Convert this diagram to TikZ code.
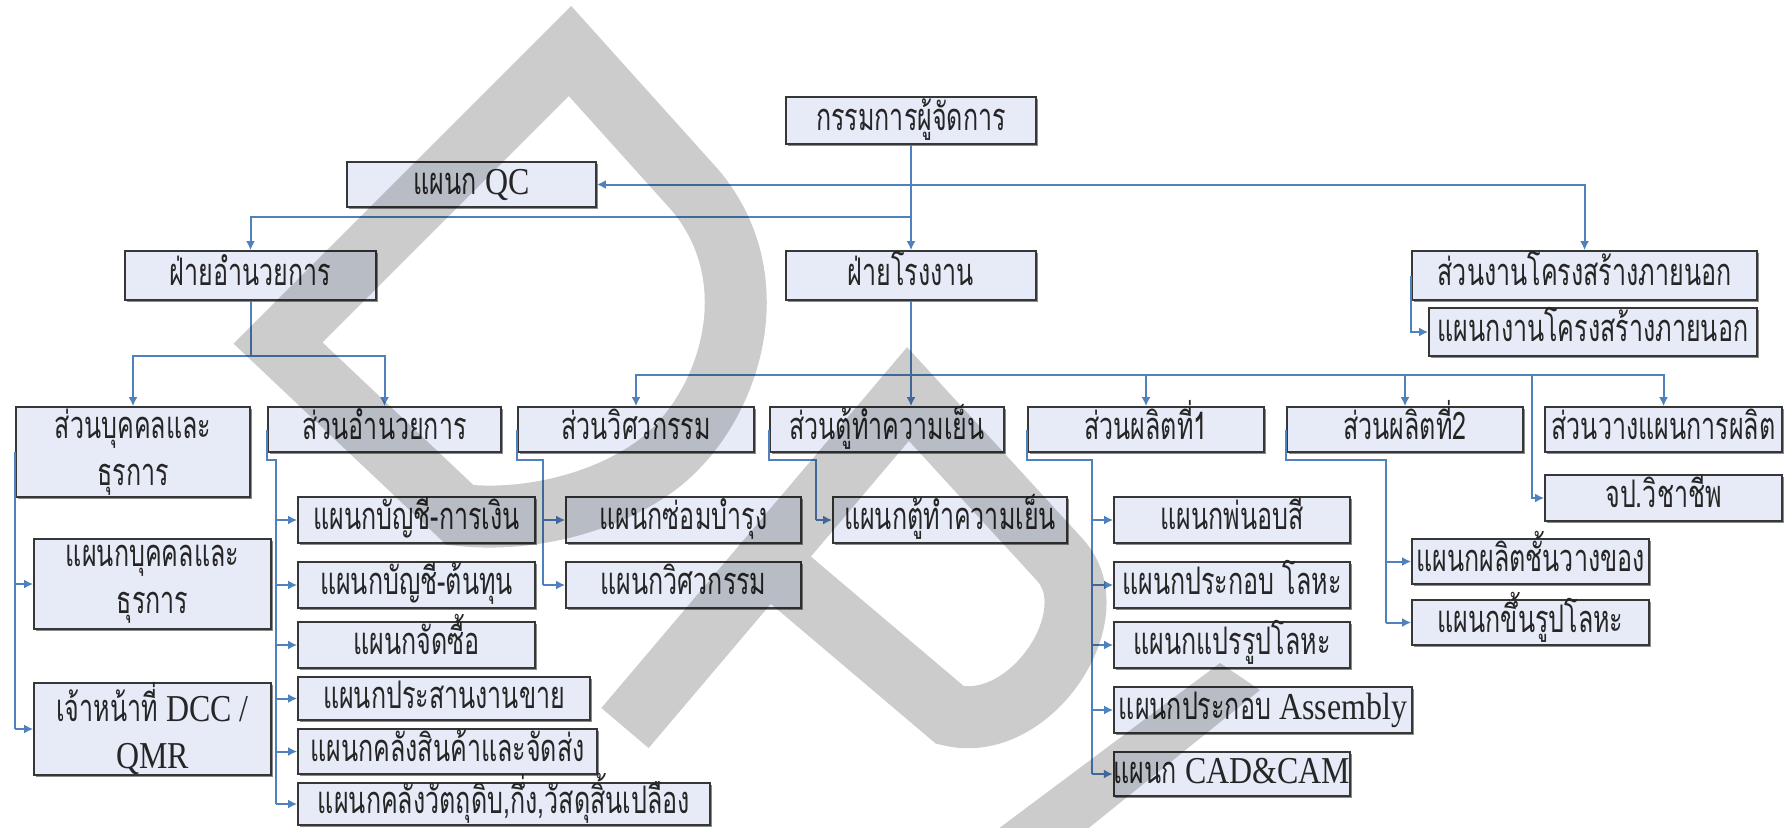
\documentclass[tikz,border=0pt]{standalone}
\usepackage{fontspec}
\setmainfont{Liberation Serif}
\newfontfamily\thaifont[Script=Thai,FakeStretch=0.66]{Loma}
\newfontfamily\latnfont[FakeStretch=0.84]{Liberation Serif}
\usetikzlibrary{arrows.meta,shadows}

\definecolor{boxfill}{RGB}{230,235,247}
\definecolor{boxline}{RGB}{55,55,55}
\definecolor{linkblue}{RGB}{79,129,189}

\tikzset{
  orgbox/.style={draw=boxline, line width=0.9pt, fill=boxfill, inner sep=0pt,
    align=center, text=black!85,
    font=\thaifont\fontsize{19}{23.5}\selectfont,
    general shadow={shadow xshift=0.8pt, shadow yshift=-0.8pt, fill=black!45}},
  oneline/.style={text height=12pt, text depth=2.5pt},
  twoline/.style={},
  link/.style={draw=linkblue, line width=1pt},
  arr/.style={link, -{Latex[length=4.5pt,width=4.5pt]}},
  watermark/.style={draw=black, draw opacity=0.2, line width=31pt, line join=miter},
}

% \orgnode[style]{name}{x1}{y1}{x2}{y2}{text}: a box given by its corners
\newcommand\orgnode[7][oneline]{%
  \node[orgbox, #1, minimum width={(#5-#3)*0.5pt}, minimum height={(#6-#4)*0.5pt}]
    (#2) at ({(#3+#5)/2},{(#4+#6)/2}) {#7};}

\begin{document}
\begin{tikzpicture}[x=0.5pt,y=-0.5pt]
\fill[white] (0,0) rectangle (1786,827);
\useasboundingbox (0,0) rectangle (1786,827);

% top levels
\orgnode{md}{786}{97}{1036}{144}{กรรมการผู้จัดการ}
\orgnode{qc}{347}{162}{596}{207}{แผนก {\latnfont QC}}
\orgnode{adm}{125}{251}{376}{300}{ฝ่ายอำนวยการ}
\orgnode{fac}{786}{251}{1036}{300}{ฝ่ายโรงงาน}
\orgnode{ext}{1412}{251}{1757}{300}{ส่วนงานโครงสร้างภายนอก}
\orgnode{extd}{1429}{308}{1757}{356}{แผนกงานโครงสร้างภายนอก}

% sections
\orgnode[twoline]{hr}{16}{407}{250}{497}{ส่วนบุคคลและ\\ธุรการ}
\orgnode{ad}{268}{407}{501}{452}{ส่วนอำนวยการ}
\orgnode{eng}{518}{407}{754}{452}{ส่วนวิศวกรรม}
\orgnode{cold}{770}{407}{1004}{452}{ส่วนตู้ทำความเย็น}
\orgnode{p1}{1028}{407}{1264}{452}{ส่วนผลิตที่1}
\orgnode{p2}{1287}{407}{1523}{452}{ส่วนผลิตที่2}
\orgnode{plan}{1545}{407}{1782}{452}{ส่วนวางแผนการผลิต}

% departments
\orgnode[twoline]{hrd}{34}{539}{271}{629}{แผนกบุคคลและ\\ธุรการ}
\orgnode[twoline]{dcc}{34}{684}{271}{774}{เจ้าหน้าที่ {\latnfont DCC /}\\{\latnfont QMR}}
\orgnode{acc1}{298}{497}{535}{543}{แผนกบัญชี-การเงิน}
\orgnode{acc2}{298}{562}{535}{608}{แผนกบัญชี-ต้นทุน}
\orgnode{pur}{298}{622}{535}{668}{แผนกจัดซื้อ}
\orgnode{sal}{298}{677}{590}{720}{แผนกประสานงานขาย}
\orgnode{wh}{298}{729}{597}{774}{แผนกคลังสินค้าและจัดส่ง}
\orgnode{raw}{298}{783}{710}{825}{แผนกคลังวัตถุดิบ,กึ่ง,วัสดุสิ้นเปลือง}
\orgnode{mnt}{566}{497}{801}{543}{แผนกซ่อมบำรุง}
\orgnode{engd}{566}{562}{801}{608}{แผนกวิศวกรรม}
\orgnode{coldd}{833}{497}{1067}{543}{แผนกตู้ทำความเย็น}
\orgnode{paint}{1114}{497}{1350}{543}{แผนกพ่นอบสี}
\orgnode{metal}{1114}{562}{1350}{608}{แผนกประกอบ โลหะ}
\orgnode{form}{1114}{622}{1350}{668}{แผนกแปรรูปโลหะ}
\orgnode{assy}{1114}{687}{1412}{733}{แผนกประกอบ {\latnfont Assembly}}
\orgnode{cad}{1114}{752}{1350}{796}{แผนก {\latnfont CAD\&CAM}}
\orgnode{safe}{1545}{475}{1782}{521}{จป.วิชาชีพ}
\orgnode{shelf}{1412}{539}{1649}{584}{แผนกผลิตชั้นวางของ}
\orgnode{mold}{1412}{600}{1649}{645}{แผนกขึ้นรูปโลหะ}

% main trunk and upper branches
\coordinate (admy) at (0,217);
\draw[arr] (md.south) -- (fac.north);
\draw[arr] (md.south |- qc.east) -- (qc.east);
\draw[arr] (md.south |- qc.east) -| (ext.north);
\draw[arr] (md.south |- admy) -| (adm.north);
\draw[arr] (ext.west) |- (extd.west);

% administration branch
\coordinate (adbar) at (0,356);
\draw[link] (adm.south) -- (adm.south |- adbar);
\draw[arr] (adm.south |- adbar) -| (hr.north);
\draw[arr] (adm.south |- adbar) -| (ad.north);

% factory branch
\coordinate (fbar) at (0,374.5);
\coordinate (safex) at (1532,0);
\draw[arr] (fac.south) -- (fac.south |- cold.north);
\draw[arr] (fac.south |- fbar) -| (eng.north);
\draw[arr] (fac.south |- fbar) -| (p1.north);
\draw[arr] (fac.south |- fbar) -| (p2.north);
\draw[arr] (fac.south |- fbar) -| (plan.north);
\draw[arr] (safex |- fbar) |- (safe.west);

% personnel section
\draw[link] (hr.west) -- (hr.west |- dcc.west);
\draw[arr] (hr.west |- hrd.west) -- (hrd.west);
\draw[arr] (hr.west |- dcc.west) -- (dcc.west);

% administration section
\draw[link] (ad.west) -- ++(0,30.5) -| ([xshift=-10.5pt]raw.west);
\foreach \d in {acc1,acc2,pur,sal,wh,raw}
  \draw[arr] ([xshift=-10.5pt]\d.west) -- (\d.west);

% engineering section
\draw[link] (eng.west) -- ++(0,30.5) -| ([xshift=-11pt]engd.west);
\foreach \d in {mnt,engd}
  \draw[arr] ([xshift=-11pt]\d.west) -- (\d.west);

% refrigeration section
\draw[link] (cold.west) -- ++(0,30.5) -| ([xshift=-8pt]coldd.west);
\draw[arr] ([xshift=-8pt]coldd.west) -- (coldd.west);

% production 1
\draw[link] (p1.west) -- ++(0,30.5) -| ([xshift=-10.5pt]cad.west);
\foreach \d in {paint,metal,form,assy,cad}
  \draw[arr] ([xshift=-10.5pt]\d.west) -- (\d.west);

% production 2
\draw[link] (p2.west) -- ++(0,30.5) -| ([xshift=-12.5pt]mold.west);
\foreach \d in {shelf,mold}
  \draw[arr] ([xshift=-12.5pt]\d.west) -- (\d.west);

% translucent logo strokes laid over the chart
\draw[watermark] (278,343) -- (570,51) -- (695,190)
  .. controls (775,285) and (725,420) .. (650,470)
  .. controls (598,505) and (525,522) .. (460,515) -- cycle;
\draw[watermark] (625,728) -- (908,394) -- (1060,560)
  .. controls (1110,615) and (1030,735) .. (950,715) -- (767,560);
\fill[black, fill opacity=0.2] (990,835) -- (1220,663) -- (1260,690) -- (1080,835) -- cycle;
\end{tikzpicture}
\end{document}
